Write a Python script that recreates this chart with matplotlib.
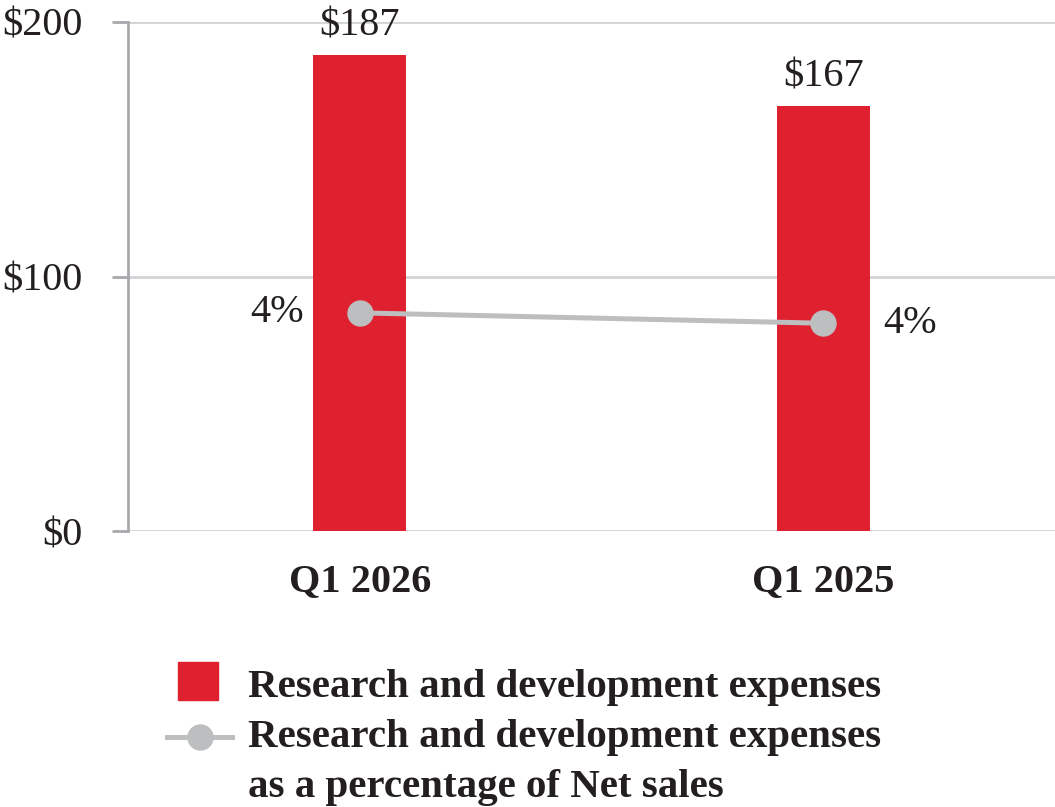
import matplotlib
matplotlib.use("Agg")
import matplotlib.pyplot as plt
from matplotlib.patches import Rectangle
from matplotlib.lines import Line2D

quarters = ["Q1 2026", "Q1 2025"]
rd_expenses = [187, 167]
rd_pct = [4.2, 4.0]
pct_labels = ["4%", "4%"]
y_ticks = [0, 100, 200]
y_tick_labels = ["$0", "$100", "$200"]
legend_lines = ["Research and development expenses",
                "Research and development expenses",
                "as a percentage of Net sales"]

RED = "#DF202F"
GREY = "#BDBEC0"
TEXT = "#231F20"

plt.rcParams["font.family"] = ["Liberation Serif", "DejaVu Serif"]

fig = plt.figure(figsize=(10.55, 8.07), dpi=100)
ax = fig.add_axes([128 / 1055, 1 - 531 / 807, 1 - 128 / 1055, (531 - 22) / 807])

x = list(range(len(quarters)))
ax.bar(x, rd_expenses, width=0.2, color=RED, zorder=2)
ax.set_xlim(-0.5, 1.5)
ax.set_ylim(0, 200)
ax.set_yticks(y_ticks)
ax.set_yticklabels(y_tick_labels, fontsize=29, color=TEXT)
ax.set_xticks(x)
ax.set_xticklabels(quarters, fontsize=29, fontweight="bold", color=TEXT)
ax.tick_params(axis="x", length=0, pad=23)
ax.tick_params(axis="y", length=11.5, width=2, color="#A7A9AC", pad=21)
ax.grid(axis="y", color="#D1D3D4", linewidth=2, zorder=0)
for s in ["top", "right", "bottom"]:
    ax.spines[s].set_visible(False)
ax.spines["left"].set_color("#A7A9AC")
ax.spines["left"].set_linewidth(2)

for xi, v in zip(x, rd_expenses):
    ax.annotate(f"${v}", (xi, v), xytext=(0, 14), textcoords="offset points",
                ha="center", va="baseline", fontsize=29, color=TEXT)

ax2 = ax.twinx()
ax2.set_ylim(0, 9.8)
ax2.axis("off")
ax2.plot(x, rd_pct, color=GREY, linewidth=3.6, marker="o", markersize=18, zorder=3)
offsets = [(-40, "right"), (43, "left")]
for xi, v, lab, (dx, ha) in zip(x, rd_pct, pct_labels, offsets):
    ax2.annotate(lab, (xi, v), xytext=(dx, 0), textcoords="offset points",
                 ha=ha, va="center", fontsize=29, color=TEXT)

# legend drawn in figure pixels
W, H = 1055, 807
fig.patches.append(Rectangle((178 / W, 1 - 700 / H), 40 / W, 38 / H,
                             transform=fig.transFigure, color=RED))
fig.lines.append(Line2D([167 / W, 232 / W], [1 - 737 / H] * 2, transform=fig.transFigure,
                        color=GREY, linewidth=3.6))
fig.lines.append(Line2D([200 / W], [1 - 737 / H], transform=fig.transFigure,
                        color=GREY, marker="o", markersize=18))
for line, base in zip(legend_lines, [697, 747, 797]):
    fig.text(248 / W, 1 - base / H, line, fontsize=29.5, fontweight="bold",
             color=TEXT, va="baseline")

fig.savefig("out.png", dpi=100, facecolor="white")
